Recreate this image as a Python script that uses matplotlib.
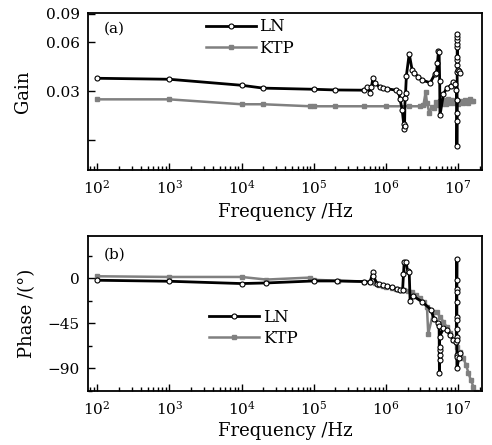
import matplotlib
matplotlib.use("Agg")
import matplotlib.pyplot as plt
from matplotlib.ticker import FixedLocator, NullFormatter, LogLocator, MultipleLocator

plt.rcParams['font.family'] = ['DejaVu Serif']
plt.rcParams['mathtext.fontset'] = 'dejavuserif'

# (a) gain, LN crystal
ln_gain_f = [1e2, 1e3, 1e4, 2e4, 1e5, 2e5, 5e5, 5.5e5, 6e5, 6.3e5, 6.6e5, 7.1e5, 8.2e5, 9.2e5,
             1.05e6, 1.38e6, 1.5e6, 1.57e6, 1.68e6, 1.76e6, 1.79e6, 1.81e6, 1.84e6, 1.87e6,
             1.92e6, 2.1e6, 2.3e6, 2.45e6, 2.8e6, 3.2e6, 4.1e6, 4.75e6, 5.0e6, 5.17e6, 5.34e6,
             5.45e6, 5.55e6, 5.6e6, 6.26e6, 6.97e6, 7.9e6, 8.6e6, 9.1e6, 9.4e6,
             9.6e6, 9.6e6, 9.6e6, 9.6e6, 9.7e6, 9.7e6, 9.7e6, 9.7e6, 9.7e6, 9.7e6, 9.7e6,
             9.7e6, 9.7e6, 9.8e6, 1.02e7, 1.07e7]
ln_gain = [0.036, 0.0355, 0.0326, 0.0313, 0.0308, 0.0305, 0.0304, 0.0316, 0.0293, 0.0318,
           0.0359, 0.0338, 0.0316, 0.0313, 0.031, 0.0304, 0.0296, 0.0267, 0.0229, 0.0189,
           0.0176, 0.0182, 0.0272, 0.0293, 0.0374, 0.051, 0.0407, 0.039, 0.0368, 0.035,
           0.0338, 0.0381, 0.0389, 0.0448, 0.053, 0.0521, 0.0344, 0.0213, 0.0288, 0.0314,
           0.0324, 0.0341, 0.0331, 0.0306,
           0.0264, 0.0219, 0.0195, 0.0137, 0.0394, 0.0433, 0.0465, 0.0487, 0.0561, 0.0588,
           0.0617, 0.0646, 0.0678, 0.0404, 0.0400, 0.039]

# (a) gain, KTP crystal
ktp_gain_f = [1e2, 1e3, 1e4, 2e4, 9e4, 1e5, 2e5, 5e5, 1e6, 2.1e6, 3e6, 3.3e6, 3.55e6, 3.7e6,
              4.0e6, 4.3e6, 4.6e6, 5.0e6, 5.3e6, 5.6e6, 6.0e6, 6.4e6, 6.8e6, 7.2e6, 7.7e6,
              8.2e6, 8.8e6, 9.4e6, 1.0e7, 1.07e7, 1.15e7, 1.25e7, 1.35e7, 1.45e7, 1.55e7, 1.63e7]
ktp_gain = [0.0267, 0.0267, 0.0249, 0.0249, 0.0242, 0.0242, 0.0242, 0.0242, 0.0242, 0.0242,
            0.0242, 0.0245, 0.0297, 0.0254, 0.0219, 0.024, 0.0236, 0.0258, 0.0245, 0.0262,
            0.025, 0.0265, 0.025, 0.0268, 0.0252, 0.0266, 0.0252, 0.0262, 0.025, 0.0262,
            0.0255, 0.0265, 0.0255, 0.027, 0.026, 0.0262]

# (b) phase, LN crystal
ln_phase_f = [1e2, 1e3, 1e4, 2.2e4, 1e5, 2.1e5, 5e5, 6e5, 6.6e5, 6.7e5, 7.5e5, 8.1e5, 9e5,
              1.03e6, 1.2e6, 1.42e6, 1.57e6, 1.7e6, 1.75e6, 1.79e6, 1.9e6, 1.99e6, 2.1e6,
              2.16e6, 2.4e6, 3.14e6, 4.19e6, 4.65e6, 5.3e6, 5.45e6,
              5.5e6, 5.52e6, 5.52e6, 5.52e6, 5.52e6, 5.52e6, 6.26e6, 6.97e6, 7.75e6, 8.61e6,
              9.4e6, 9.6e6, 9.6e6, 9.6e6, 9.6e6, 9.6e6, 9.6e6, 9.6e6, 9.6e6, 9.6e6, 9.6e6,
              9.6e6, 9.6e6, 9.6e6, 1.02e7, 1.07e7]
ln_phase = [-2, -3, -5.3, -4.7, -2.7, -2.7, -3.3, -4, 6, 2.7, -5.7, -6, -7, -7.7, -9, -11,
            -11.3, -12, 4.3, 16.7, 16.7, 7, 6, -22.3, -18, -23.3, -31.3, -40.7, -45, -47.3,
            -95.3, -82, -77, -72, -68.7, -58.7, -50, -52, -57, -62,
            -64, 19.7, -2, -10.3, -13.7, -23.7, -38.7, -42, -50.3, -58.7, -62, -77, -78.7,
            -90.3, -80, -75]

# (b) phase, KTP crystal
ktp_phase_f = [1e2, 1e3, 1e4, 2.2e4, 9e4, 1e5, 2.2e5, 5e5, 6e5, 7e5, 8e5, 9e5, 1e6, 1.2e6,
               1.4e6, 1.6e6, 1.8e6, 2e6, 2.3e6, 2.6e6, 3e6, 3.4e6, 3.7e6, 3.85e6, 4.55e6,
               5.07e6, 5.64e6, 6.26e6, 6.97e6, 7.75e6, 8.61e6, 9.6e6, 1.07e7, 1.18e7, 1.29e7,
               1.39e7, 1.5e7, 1.63e7, 1.75e7]
ktp_phase = [2, 1.3, 1.3, -1.3, 0.7, -1.5, -2.5, -3.3, -4, -5, -6.5, -7.5, -8.3, -9.5, -10.5,
             -11.5, -12, -12.5, -14, -16.5, -20, -24, -29, -55.5, -33.7, -34, -38.7, -43.7,
             -49, -55, -62, -68.7, -73.7, -80, -87, -95, -102, -108.7, -114]

fig = plt.figure(figsize=(4.92, 4.45), dpi=100)
ax1 = fig.add_axes([0.179, 0.618, 0.801, 0.353])
ax2 = fig.add_axes([0.179, 0.121, 0.801, 0.348])

ln_style = dict(color='black', linewidth=2, marker='o', markersize=3.6,
                markerfacecolor='white', markeredgecolor='black', markeredgewidth=0.8)
ktp_style = dict(color='#808080', linewidth=1.8, marker='s', markersize=2.8,
                 markerfacecolor='#808080', markeredgecolor='#808080')

ax1.plot(ktp_gain_f, ktp_gain, label='KTP', zorder=2, **ktp_style)
ax1.plot(ln_gain_f, ln_gain, label='LN', zorder=3, **ln_style)
ax1.set_yscale('log')
ax1.set_ylim(0.0098, 0.091)
ax1.yaxis.set_major_locator(FixedLocator([0.015, 0.03, 0.06, 0.09]))
ax1.yaxis.set_minor_locator(FixedLocator([]))
ax1.set_yticklabels(['', '0.03', '0.06', '0.09'])
ax1.set_ylabel('Gain', fontsize=13, labelpad=10)
ax1.text(0.04, 0.9, '(a)', transform=ax1.transAxes, fontsize=11, va='center')

ax2.plot(ktp_phase_f, ktp_phase, label='KTP', zorder=2, **ktp_style)
ax2.plot(ln_phase_f, ln_phase, label='LN', zorder=3, **ln_style)
ax2.set_ylim(-113, 42)
ax2.yaxis.set_major_locator(FixedLocator([-90, -45, 0]))
ax2.yaxis.set_minor_locator(MultipleLocator(22.5))
ax2.set_ylabel('Phase /(°)', fontsize=13, labelpad=8)
ax2.text(0.04, 0.88, '(b)', transform=ax2.transAxes, fontsize=11, va='center')

for ax in (ax1, ax2):
    ax.set_xscale('log')
    ax.set_xlim(75, 2.15e7)
    ax.xaxis.set_major_locator(LogLocator(base=10, numticks=10))
    ax.xaxis.set_minor_locator(LogLocator(base=10, subs=range(2, 10), numticks=20))
    ax.xaxis.set_minor_formatter(NullFormatter())
    ax.tick_params(which='both', direction='in', top=False, right=False, labelsize=11)
    ax.tick_params(which='major', length=5, width=1, pad=6)
    ax.tick_params(which='minor', length=3, width=1)
    for s in ax.spines.values():
        s.set_linewidth(1.3)
    h, l = ax.get_legend_handles_labels()
    ax.legend(h[::-1], l[::-1], frameon=False, numpoints=1, handlelength=3.0,
              fontsize=12, loc='upper left', labelspacing=0.25, handletextpad=0.2,
              bbox_to_anchor=(0.26, 1.06) if ax is ax1 else (0.27, 0.63))

ax1.set_xlabel('Frequency /Hz', fontsize=13, labelpad=5)
ax2.set_xlabel('Frequency /Hz', fontsize=13, labelpad=3)

fig.savefig('out.png', dpi=100)
